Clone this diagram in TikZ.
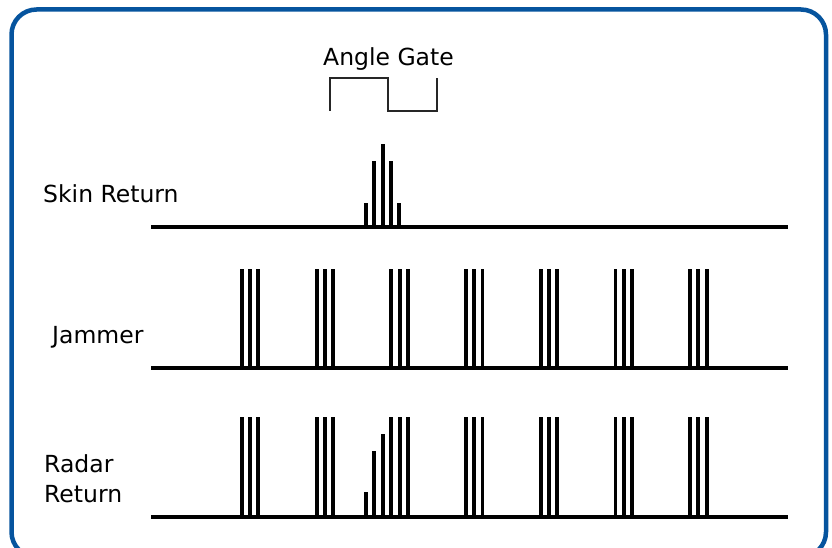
\documentclass[tikz,border=0pt]{standalone}
\usepackage{fontspec}
\setmainfont{DejaVu Sans}
\definecolor{frameblue}{RGB}{6,84,158}
\tikzset{
  lbl/.style={inner sep=0pt, anchor=base west, font=\fontsize{23.5}{27}\selectfont},
  axis/.style={line width=4pt, black},
  bar/.style={line width=3.9pt, black},
  gate/.style={line width=1.1pt, black!85}
}
\begin{document}
\begin{tikzpicture}[x=1pt,y=-1pt]
\useasboundingbox (0,0) rectangle (832,548);
\begin{scope}
\clip (0,0) rectangle (832,548);
\draw[frameblue, line width=4.5pt, rounded corners=25pt] (11.5,9.5) rectangle (826,557);
\end{scope}
% labels
\node[lbl] (ag) at (323,66) {Angle Gate};
\node[lbl] (skin) at (43,203) {Skin Return};
\node[lbl] (jam) at (52,343) {Jammer};
\node[lbl] (radar) at (44,472) {Radar};
\node[lbl] (ret) at (44,502) {Return};
% angle gate
\draw[gate] (330,111) -- (330,78) -- (388,78) -- (388,111) -- (437,111) -- (437,78);
% baselines
\coordinate (s0) at (151,227); \coordinate (s1) at (788,227);
\coordinate (j0) at (151,368); \coordinate (j1) at (788,368);
\coordinate (r0) at (151,517); \coordinate (r1) at (788,517);
\draw[axis] (s0) -- (s1);
\draw[axis] (j0) -- (j1);
\draw[axis] (r0) -- (r1);
% skin return pulses
\foreach \x/\h in {366/24,374/66,383/83,391/66,399/24}{
  \draw[bar] (\x,227) -- (\x,227-\h);
}
% jammer and radar jammer pulses
\foreach \i in {0,...,6}{
  \foreach \d in {0,8.2,16.4}{
    \draw[bar] ({242+74.7*\i+\d},368) -- ({242+74.7*\i+\d},269);
    \draw[bar] ({242+74.7*\i+\d},517) -- ({242+74.7*\i+\d},417);
  }
}
% radar skin pulses
\foreach \x/\h in {366/25,374/66,383/83}{
  \draw[bar] (\x,517) -- (\x,517-\h);
}
\end{tikzpicture}
\end{document}
